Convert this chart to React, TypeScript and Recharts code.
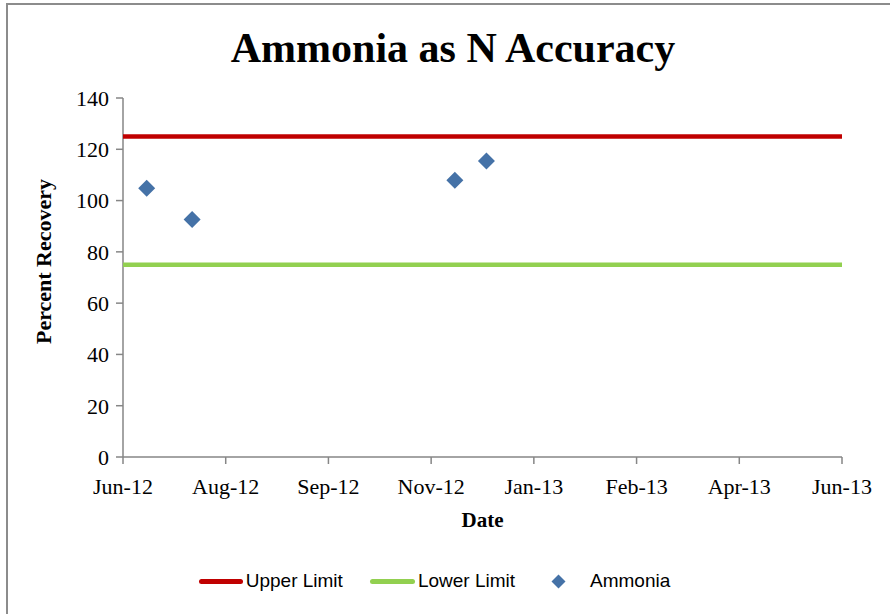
import React from 'react';
import { ScatterChart, Scatter, XAxis, YAxis, Legend, Label } from 'recharts';

// days counted from the Jun-12 tick, Excel-style evenly spaced date ticks
const tickDays = [0, 52, 104, 156, 208, 260, 312, 364];
const tickLabels = ['Jun-12', 'Aug-12', 'Sep-12', 'Nov-12', 'Jan-13', 'Feb-13', 'Apr-13', 'Jun-13'];
const yTicks = [0, 20, 40, 60, 80, 100, 120, 140];

const ammoniaDays = [12, 35, 168, 184];
const ammoniaValues = [104.8, 92.6, 107.9, 115.4];

const upperLimit = 125;
const lowerLimit = 75;

const ammonia = ammoniaDays.map((day, i) => ({ day, value: ammoniaValues[i] }));
const upper = [{ day: tickDays[0], value: upperLimit }, { day: tickDays[tickDays.length - 1], value: upperLimit }];
const lower = [{ day: tickDays[0], value: lowerLimit }, { day: tickDays[tickDays.length - 1], value: lowerLimit }];

const RED = '#C00000';
const GREEN = '#92D050';
const BLUE = '#4572A7';
const AXIS = '#868686';
const SERIF = '"Liberation Serif", "DejaVu Serif", serif';
const SANS = '"Liberation Sans", Arial, sans-serif';

const Diamond = (props: any) => {
  const { cx, cy } = props;
  const r = 8.5;
  return <polygon points={`${cx},${cy - r} ${cx + r},${cy} ${cx},${cy + r} ${cx - r},${cy}`} fill={BLUE} />;
};

const NoDot = () => <g />;

const LegendContent = () => (
  <div style={{ display: 'flex', justifyContent: 'center', alignItems: 'center', fontFamily: SANS, fontSize: 19, color: '#000', marginTop: 10, paddingLeft: 14 }}>
    <span style={{ width: 44, height: 5, background: RED, borderRadius: 3, display: 'inline-block', marginRight: 3 }} />
    <span style={{ marginRight: 27 }}>Upper Limit</span>
    <span style={{ width: 45, height: 5, background: GREEN, borderRadius: 3, display: 'inline-block', marginRight: 3 }} />
    <span style={{ marginRight: 36 }}>Lower Limit</span>
    <svg width={15} height={15} style={{ marginRight: 24 }}>
      <polygon points="7.5,0.5 14.5,7.5 7.5,14.5 0.5,7.5" fill={BLUE} />
    </svg>
    <span>Ammonia</span>
  </div>
);

const App: React.FC = () => {
  return (
    <div style={{ position: 'absolute', left: 0, top: 0, width: 890, height: 614, background: '#fff', overflow: 'hidden' }}>
      <div style={{ position: 'absolute', left: 6, top: 3, width: 1000, height: 1000, borderLeft: '2px solid #8c8c8c', borderTop: '2px solid #8c8c8c' }} />
      <div style={{ position: 'absolute', left: 0, top: 22, width: 906, textAlign: 'center', fontFamily: SERIF, fontWeight: 'bold', fontSize: 42, lineHeight: '52px', color: '#000' }}>
        Ammonia as N Accuracy
      </div>
      <div style={{ position: 'absolute', left: 0, top: 0 }}>
        <ScatterChart width={890} height={614} margin={{ top: 98, right: 48, bottom: 14, left: 13 }}>
          <XAxis
            type="number"
            dataKey="day"
            domain={[tickDays[0], tickDays[tickDays.length - 1]]}
            ticks={tickDays}
            tickFormatter={(v: number) => tickLabels[tickDays.indexOf(v)] ?? ''}
            interval={0}
            height={103}
            tickSize={7}
            tickMargin={14}
            stroke={AXIS}
            strokeWidth={1.5}
            tick={{ fill: '#000', fontFamily: SERIF, fontSize: 22 }}
          >
            <Label
              content={({ viewBox }: any) => (
                <text x={viewBox.x + viewBox.width / 2} y={viewBox.y + 70} textAnchor="middle" fontFamily={SERIF} fontWeight="bold" fontSize={21} fill="#000">
                  Date
                </text>
              )}
            />
          </XAxis>
          <YAxis
            type="number"
            dataKey="value"
            domain={[0, 140]}
            ticks={yTicks}
            interval={0}
            width={110}
            tickSize={7}
            tickMargin={7}
            stroke={AXIS}
            strokeWidth={1.5}
            tick={{ fill: '#000', fontFamily: SERIF, fontSize: 22 }}
          >
            <Label
              content={({ viewBox }: any) => {
                const x = viewBox.x + 38;
                const y = viewBox.y + viewBox.height / 2 - 16;
                return (
                  <text x={x} y={y} transform={`rotate(-90 ${x} ${y})`} textAnchor="middle" fontFamily={SERIF} fontWeight="bold" fontSize={22} fill="#000">
                    Percent Recovery
                  </text>
                );
              }}
            />
          </YAxis>
          <Scatter name="Upper Limit" data={upper} line={{ stroke: RED, strokeWidth: 4.5 }} shape={<NoDot />} isAnimationActive={false} />
          <Scatter name="Lower Limit" data={lower} line={{ stroke: GREEN, strokeWidth: 4.5 }} shape={<NoDot />} isAnimationActive={false} />
          <Scatter name="Ammonia" data={ammonia} shape={<Diamond />} isAnimationActive={false} />
          <Legend verticalAlign="bottom" height={40} content={<LegendContent />} />
        </ScatterChart>
      </div>
    </div>
  );
};

export default App;
